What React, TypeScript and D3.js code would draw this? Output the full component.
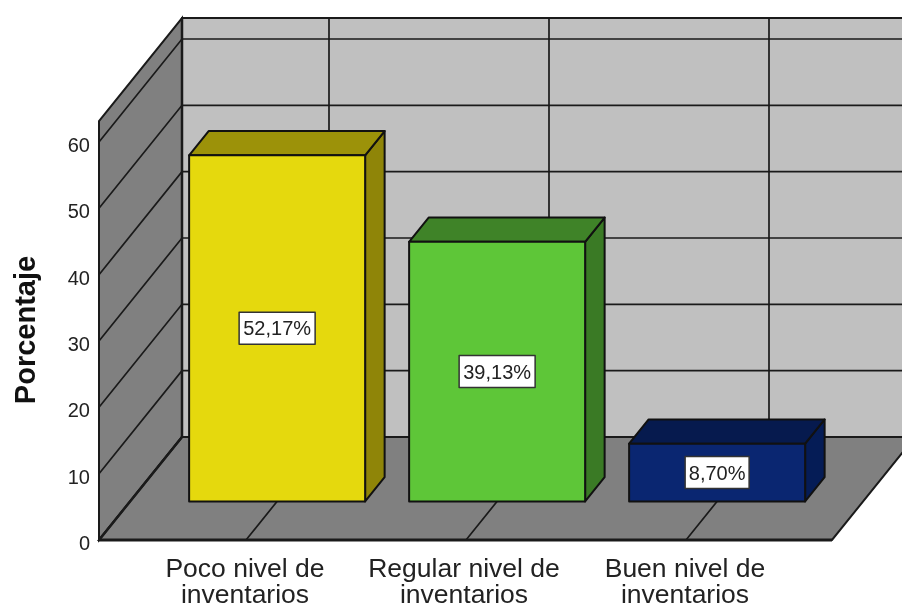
import React from "react";
import * as d3 from "d3";

const categories = ["Poco nivel de|inventarios", "Regular nivel de|inventarios", "Buen nivel de|inventarios"];
const values = [52.17, 39.13, 8.7];
const valueLabels = ["52,17%", "39,13%", "8,70%"];
const frontColors = ["#e5d90d", "#5ec638", "#0a2671"];
const topColors = ["#9c9209", "#3f8328", "#061a4e"];
const sideColors = ["#8f8508", "#3a7a25", "#051c56"];
const yTicks = [0, 10, 20, 30, 40, 50, 60];
const yTitle = "Porcentaje";

const FONT = "'Liberation Sans', Arial, sans-serif";
const LINE = "#1a1a1a";

const y = d3.scaleLinear().domain([0, 60]).range([540, 142]);
const yMax = y.invert(121);
const tickX = (i: number) => 246 + i * 220;
const dx = d3.scaleLinear().domain([0, 1]).range([0, 83]);
const dy = d3.scaleLinear().domain([0, 1]).range([0, -103]);
const P = (px: number, v: number, z: number): [number, number] => [px + dx(z), y(v) + dy(z)];
const poly = (pts: [number, number][]) => d3.line()(pts)! + "Z";

const left = 99;
const right = 832;
const BAR_HALF = 88;
const z0 = 0.375;
const z1 = 0.61;

export default function App() {
  return (
    <svg width={902} height={604} style={{ position: "absolute", left: 0, top: 0, background: "#fff", filter: "blur(0.45px)" }}>
      <path d={poly([P(left, 0, 1), P(right, 0, 1), P(right, yMax, 1), P(left, yMax, 1)])} fill="#c0c0c0" stroke={LINE} strokeWidth={2} />
      <path d={poly([P(left, 0, 0), P(left, 0, 1), P(left, yMax, 1), P(left, yMax, 0)])} fill="#808080" stroke={LINE} strokeWidth={2} />
      <path d={poly([P(left, 0, 0), P(right, 0, 0), P(right, 0, 1), P(left, 0, 1)])} fill="#808080" stroke={LINE} strokeWidth={2} />
      {yTicks.slice(1).map((t) => (
        <path key={t} d={d3.line()([P(left, t, 0), P(left, t, 1), P(right, t, 1)])!} fill="none" stroke={LINE} strokeWidth={1.7} />
      ))}
      {categories.map((_, i) => (
        <path key={i} d={d3.line()([P(tickX(i), 0, 0), P(tickX(i), 0, 1), P(tickX(i), yMax, 1)])!} fill="none" stroke={LINE} strokeWidth={1.7} />
      ))}
      <path d={d3.line()([P(left, 0, 1), P(left, yMax, 1)])!} stroke={LINE} strokeWidth={2.5} />
      <path d={d3.line()([P(left, 0, 0), P(left, 0, 1)])!} stroke={LINE} strokeWidth={2.5} />
      <path d={d3.line()([P(left, 0, 0), P(right, 0, 0)])!} stroke={LINE} strokeWidth={3} />
      {values.map((v, i) => {
        const c = tickX(i);
        const a = c - BAR_HALF;
        const b = c + BAR_HALF;
        const front = [P(a, 0, z0), P(b, 0, z0), P(b, v, z0), P(a, v, z0)] as [number, number][];
        const top = [P(a, v, z0), P(b, v, z0), P(b, v, z1), P(a, v, z1)] as [number, number][];
        const side = [P(b, 0, z0), P(b, 0, z1), P(b, v, z1), P(b, v, z0)] as [number, number][];
        const [cx, cy] = P(c, v / 2, z0);
        const w = i === 2 ? 64 : 76;
        return (
          <g key={i} stroke="#111" strokeWidth={2} strokeLinejoin="round">
            <path d={poly(side)} fill={sideColors[i]} />
            <path d={poly(top)} fill={topColors[i]} />
            <path d={poly(front)} fill={frontColors[i]} />
            <rect x={cx - w / 2} y={cy - 16} width={w} height={32} fill="#fff" stroke="#333" strokeWidth={1.5} />
            <text x={cx} y={cy + 7} textAnchor="middle" fontFamily={FONT} fontSize={20} fill="#222" stroke="none">
              {valueLabels[i]}
            </text>
          </g>
        );
      })}
      {yTicks.map((t) => (
        <text key={t} x={90} y={y(t) + 10} textAnchor="end" fontFamily={FONT} fontSize={20} fill="#222">
          {t}
        </text>
      ))}
      <text transform="translate(35,330) rotate(-90)" textAnchor="middle" fontFamily={FONT} fontSize={29} fontWeight="bold" fill="#111">
        {yTitle}
      </text>
      {categories.map((c, i) =>
        c.split("|").map((l, k) => (
          <text key={i + "-" + k} x={tickX(i) - 1 + (i === 1 ? -1 : 0)} y={577 + k * 25.5} textAnchor="middle" fontFamily={FONT} fontSize={26.5} fill="#222">
            {l}
          </text>
        ))
      )}
    </svg>
  );
}
